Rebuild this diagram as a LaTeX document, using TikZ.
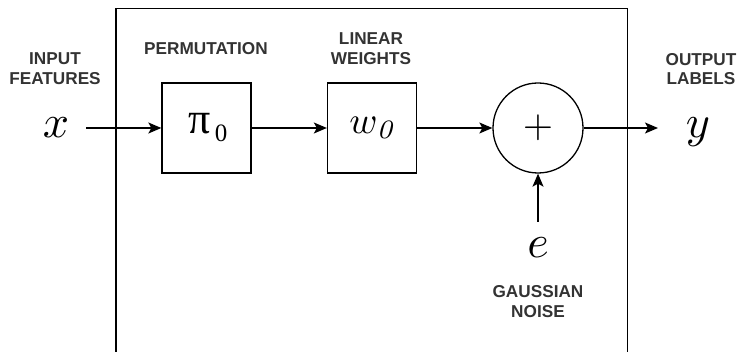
\documentclass[tikz,border=0pt]{standalone}
\usepackage{fontspec}
\newfontfamily\labfont{Liberation Sans}
\newfontfamily\serfont{Liberation Serif}
\usetikzlibrary{arrows.meta}
\definecolor{labgray}{HTML}{333333}
\begin{document}
\begin{tikzpicture}[x=1pt,y=-1pt,
  lab/.style={font=\labfont\bfseries\fontsize{17.2}{19.7}\selectfont, text=labgray, align=center, inner sep=0pt},
  blk/.style={draw, line width=1.3pt, minimum width=89pt, minimum height=90pt, inner sep=0pt},
  sumnode/.style={draw, line width=1.3pt, circle, minimum size=90pt, inner sep=0pt},
  mathlab/.style={inner sep=0pt, scale=4.6},
  conn/.style={line width=1.3pt, -{Stealth[length=13pt,width=11pt,inset=3pt]}}]
\useasboundingbox (0,0) rectangle (743,352);
\draw[line width=1.3pt] (116,360) -- (116,8.3) -- (627.5,8.3) -- (627.5,360);
\node[blk] (pi) at (206.5,128) {};
\node[inner sep=0pt] (pit) at (208,128) {\serfont\fontsize{44}{44}\selectfont π\hspace{4pt}\raisebox{-8pt}{\serfont\fontsize{25}{25}\selectfont 0}};
\node[blk] (w) at (372,128) {};
\node[inner sep=0pt, scale=3.8] (wt) at (w.center) {$w_{\mathit{0}}$};
\node[sumnode] (sum) at (538,128) {};
\node[inner sep=0pt, scale=3.9] (plus) at (sum.center) {$+$};
\node[mathlab] (x) at (56,128) {$x$};
\node[mathlab] (y) at (698,132) {$y$};
\node[mathlab] (e) at (538,248) {$e$};
\coordinate (xs) at (86,128);
\coordinate (ye) at (658,128);
\coordinate (es) at (538,222);
\draw[conn] (xs) -- (pi.west);
\draw[conn] (pi.east) -- (w.west);
\draw[conn] (w.east) -- (sum.west);
\draw[conn] (sum.east) -- (ye);
\draw[conn] (es) -- (sum.south);
\node[lab] (inlab) at (55,69) {INPUT\\FEATURES};
\node[lab] (permlab) at (206,49) {PERMUTATION};
\node[lab] (linlab) at (371,49) {LINEAR\\WEIGHTS};
\node[lab] (outlab) at (701,69) {OUTPUT\\LABELS};
\node[lab] (noiselab) at (538,301.5) {GAUSSIAN\\NOISE};
\end{tikzpicture}
\end{document}
